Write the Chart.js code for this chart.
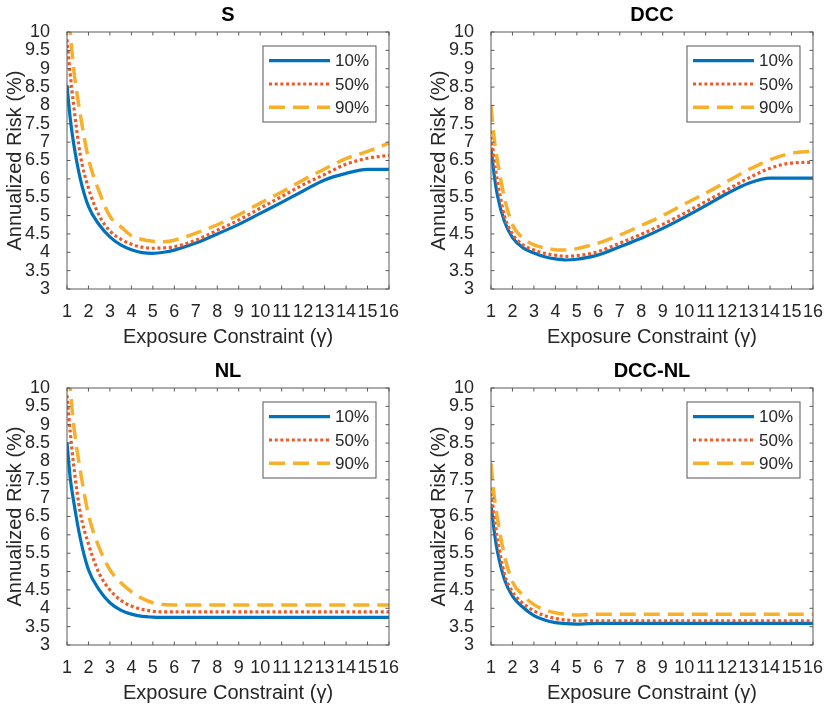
<!DOCTYPE html>
<html>
<head>
<meta charset="utf-8">
<script src="https://cdn.jsdelivr.net/npm/chart.js@4.4.1/dist/chart.umd.min.js"></script>
<style>
  body { margin: 0; background: #fff; }
  #wrap { position: relative; width: 827px; height: 711px; }
  canvas { position: absolute; }
</style>
</head>
<body>
<div id="wrap">
  <canvas id="cS" width="413" height="355" style="left:0px;top:0px"></canvas>
  <canvas id="cDCC" width="403" height="355" style="left:424px;top:0px"></canvas>
  <canvas id="cNL" width="413" height="355" style="left:0px;top:356px"></canvas>
  <canvas id="cDCCNL" width="403" height="355" style="left:424px;top:356px"></canvas>
</div>
<script>
// exposure constraint gamma (x positions of the sampled points)
var gamma = [1, 1.15, 1.3, 1.62, 2, 2.5, 3, 3.5, 4, 4.5, 5, 5.5, 6, 7, 8, 9, 10, 11, 12, 13, 14, 15, 16];
var xTicks = [1, 2, 3, 4, 5, 6, 7, 8, 9, 10, 11, 12, 13, 14, 15, 16];
var yTicks = [3, 3.5, 4, 4.5, 5, 5.5, 6, 6.5, 7, 7.5, 8, 8.5, 9, 9.5, 10];
var quantiles = ["10%", "50%", "90%"];

// S
var s10 = [8.55, 7.65, 7.0, 6.0, 5.25, 4.75, 4.42, 4.2, 4.07, 3.99, 3.97, 4.0, 4.06, 4.25, 4.5, 4.76, 5.06, 5.36, 5.67, 5.97, 6.15, 6.26, 6.26];
var s50 = [9.8, 8.85, 8.05, 6.65, 5.75, 5.0, 4.58, 4.36, 4.22, 4.14, 4.11, 4.12, 4.15, 4.33, 4.6, 4.88, 5.2, 5.52, 5.84, 6.12, 6.4, 6.56, 6.64];
var s90 = [11.0, 10.0, 9.05, 7.75, 6.55, 5.65, 4.98, 4.7, 4.45, 4.35, 4.3, 4.29, 4.33, 4.52, 4.75, 5.02, 5.34, 5.64, 5.97, 6.27, 6.55, 6.75, 6.97];
// DCC
var d10 = [6.85, 6.1, 5.55, 4.85, 4.4, 4.12, 3.98, 3.88, 3.82, 3.79, 3.81, 3.86, 3.93, 4.15, 4.38, 4.65, 4.95, 5.27, 5.6, 5.88, 6.02, 6.02, 6.02];
var d50 = [7.3, 6.5, 5.95, 5.0, 4.5, 4.2, 4.06, 3.97, 3.92, 3.89, 3.91, 3.95, 4.02, 4.25, 4.49, 4.76, 5.06, 5.38, 5.7, 6.02, 6.29, 6.43, 6.45];
var d90 = [7.98, 7.1, 6.5, 5.5, 4.75, 4.38, 4.2, 4.12, 4.07, 4.06, 4.1, 4.17, 4.25, 4.47, 4.73, 5.0, 5.31, 5.61, 5.93, 6.25, 6.52, 6.7, 6.75];
// NL
var n10 = [8.52, 7.55, 6.95, 5.9, 5.05, 4.5, 4.15, 3.95, 3.84, 3.78, 3.76, 3.75, 3.75, 3.75, 3.75, 3.75, 3.75, 3.75, 3.75, 3.75, 3.75, 3.75, 3.75];
var n50 = [9.8, 8.8, 7.95, 6.6, 5.75, 4.95, 4.5, 4.22, 4.06, 3.97, 3.92, 3.9, 3.9, 3.9, 3.9, 3.9, 3.9, 3.9, 3.9, 3.9, 3.9, 3.9, 3.9];
var n90 = [11.0, 10.0, 9.05, 7.75, 6.55, 5.65, 5.05, 4.7, 4.45, 4.27, 4.15, 4.1, 4.09, 4.09, 4.09, 4.09, 4.09, 4.09, 4.09, 4.09, 4.09, 4.09, 4.09];
// DCC-NL
var dn10 = [6.84, 6.1, 5.55, 4.8, 4.33, 4.02, 3.8, 3.68, 3.61, 3.58, 3.57, 3.58, 3.59, 3.59, 3.59, 3.59, 3.59, 3.59, 3.59, 3.59, 3.59, 3.59, 3.59];
var dn50 = [7.29, 6.5, 5.9, 4.95, 4.45, 4.13, 3.93, 3.8, 3.72, 3.68, 3.66, 3.66, 3.66, 3.66, 3.66, 3.66, 3.66, 3.66, 3.66, 3.66, 3.66, 3.66, 3.66];
var dn90 = [7.95, 7.05, 6.45, 5.45, 4.72, 4.35, 4.1, 3.96, 3.88, 3.84, 3.82, 3.83, 3.84, 3.84, 3.84, 3.84, 3.84, 3.84, 3.84, 3.84, 3.84, 3.84, 3.84];

var FONT = "'Liberation Sans', Arial, Helvetica, sans-serif";
var TEXT = "#262626";
Chart.defaults.font.family = FONT;
Chart.defaults.color = TEXT;

var styles = [
  { color: "#0072BD", dash: [], width: 3.2 },
  { color: "#EE5A26", dash: [3, 2.7], width: 3.2 },
  { color: "#F8B02B", dash: [16, 8], width: 3.5 }
];

// box, inward ticks and legend drawn on top of the plot
var axesBox = {
  id: "axesBox",
  afterDraw: function(chart) {
    var ctx = chart.ctx, a = chart.chartArea;
    var x = chart.scales.x, y = chart.scales.y;
    var tl = 3.5;
    ctx.save();
    ctx.strokeStyle = "#5a5a5a";
    ctx.lineWidth = 1;
    ctx.beginPath();
    xTicks.forEach(function(v) {
      var px = x.getPixelForValue(v);
      ctx.moveTo(px, a.bottom); ctx.lineTo(px, a.bottom - tl);
      ctx.moveTo(px, a.top); ctx.lineTo(px, a.top + tl);
    });
    yTicks.forEach(function(v) {
      var py = y.getPixelForValue(v);
      ctx.moveTo(a.left, py); ctx.lineTo(a.left + tl, py);
      ctx.moveTo(a.right, py); ctx.lineTo(a.right - tl, py);
    });
    ctx.stroke();
    ctx.strokeRect(a.left, a.top, a.right - a.left, a.bottom - a.top);

    // legend
    var bw = 113, bh = 76;
    var bx = a.right - 13 - bw, by = a.top + 14;
    ctx.fillStyle = "#fff";
    ctx.fillRect(bx, by, bw, bh);
    ctx.strokeStyle = "#555";
    ctx.strokeRect(bx, by, bw, bh);
    chart.data.datasets.forEach(function(ds, i) {
      var ly = by + 14.7 + i * 23.3;
      ctx.beginPath();
      ctx.strokeStyle = ds.borderColor;
      ctx.lineWidth = ds.borderWidth;
      ctx.setLineDash(ds.borderDash);
      ctx.moveTo(bx + 6, ly);
      ctx.lineTo(bx + 67, ly);
      ctx.stroke();
      ctx.setLineDash([]);
      ctx.fillStyle = TEXT;
      ctx.font = "17px " + FONT;
      ctx.textBaseline = "middle";
      ctx.textAlign = "left";
      ctx.fillText(ds.label, bx + 72, ly + 1);
    });
    ctx.restore();
  }
};

function makeChart(id, title, series, rightPad) {
  var datasets = series.map(function(vals, i) {
    return {
      label: quantiles[i],
      data: vals.map(function(v, k) { return { x: gamma[k], y: v }; }),
      borderColor: styles[i].color,
      borderDash: styles[i].dash,
      borderWidth: styles[i].width,
      borderCapStyle: "butt",
      pointRadius: 0,
      fill: false,
      cubicInterpolationMode: "monotone",
      order: 2 - i
    };
  });
  return new Chart(document.getElementById(id).getContext("2d"), {
    type: "line",
    data: { datasets: datasets },
    options: {
      responsive: false,
      animation: false,
      layout: { padding: { left: 0, right: rightPad, top: 0, bottom: 0 } },
      plugins: {
        legend: { display: false },
        tooltip: { enabled: false },
        title: {
          display: true,
          text: title,
          fullSize: false,
          color: "#000",
          font: { size: 20, weight: "bold" },
          padding: { top: 3, bottom: 5 }
        }
      },
      scales: {
        x: {
          type: "linear",
          min: 1,
          max: 16,
          afterBuildTicks: function(s) { s.ticks = xTicks.map(function(v) { return { value: v }; }); },
          afterFit: function(s) { s.height = 66; },
          grid: { display: false },
          border: { display: false },
          ticks: { autoSkip: false, maxRotation: 0, minRotation: 0, padding: 4, color: TEXT, font: { size: 18 } },
          title: { display: true, text: "Exposure Constraint (γ)", color: TEXT, font: { size: 20 }, padding: { top: 0, bottom: 6 } }
        },
        y: {
          type: "linear",
          min: 3,
          max: 10,
          afterBuildTicks: function(s) { s.ticks = yTicks.map(function(v) { return { value: v }; }); },
          afterFit: function(s) { s.width = 67; },
          grid: { display: false },
          border: { display: false },
          ticks: { autoSkip: false, padding: 9, color: TEXT, font: { size: 18 }, callback: function(v) { return String(v); } },
          title: { display: true, text: "Annualized Risk (%)", color: TEXT, font: { size: 20 }, padding: { top: 3, bottom: 0 } }
        }
      }
    },
    plugins: [axesBox]
  });
}

makeChart("cS", "S", [s10, s50, s90], 24);
makeChart("cDCC", "DCC", [d10, d50, d90], 13);
makeChart("cNL", "NL", [n10, n50, n90], 24);
makeChart("cDCCNL", "DCC-NL", [dn10, dn50, dn90], 13);
</script>
</body>
</html>
